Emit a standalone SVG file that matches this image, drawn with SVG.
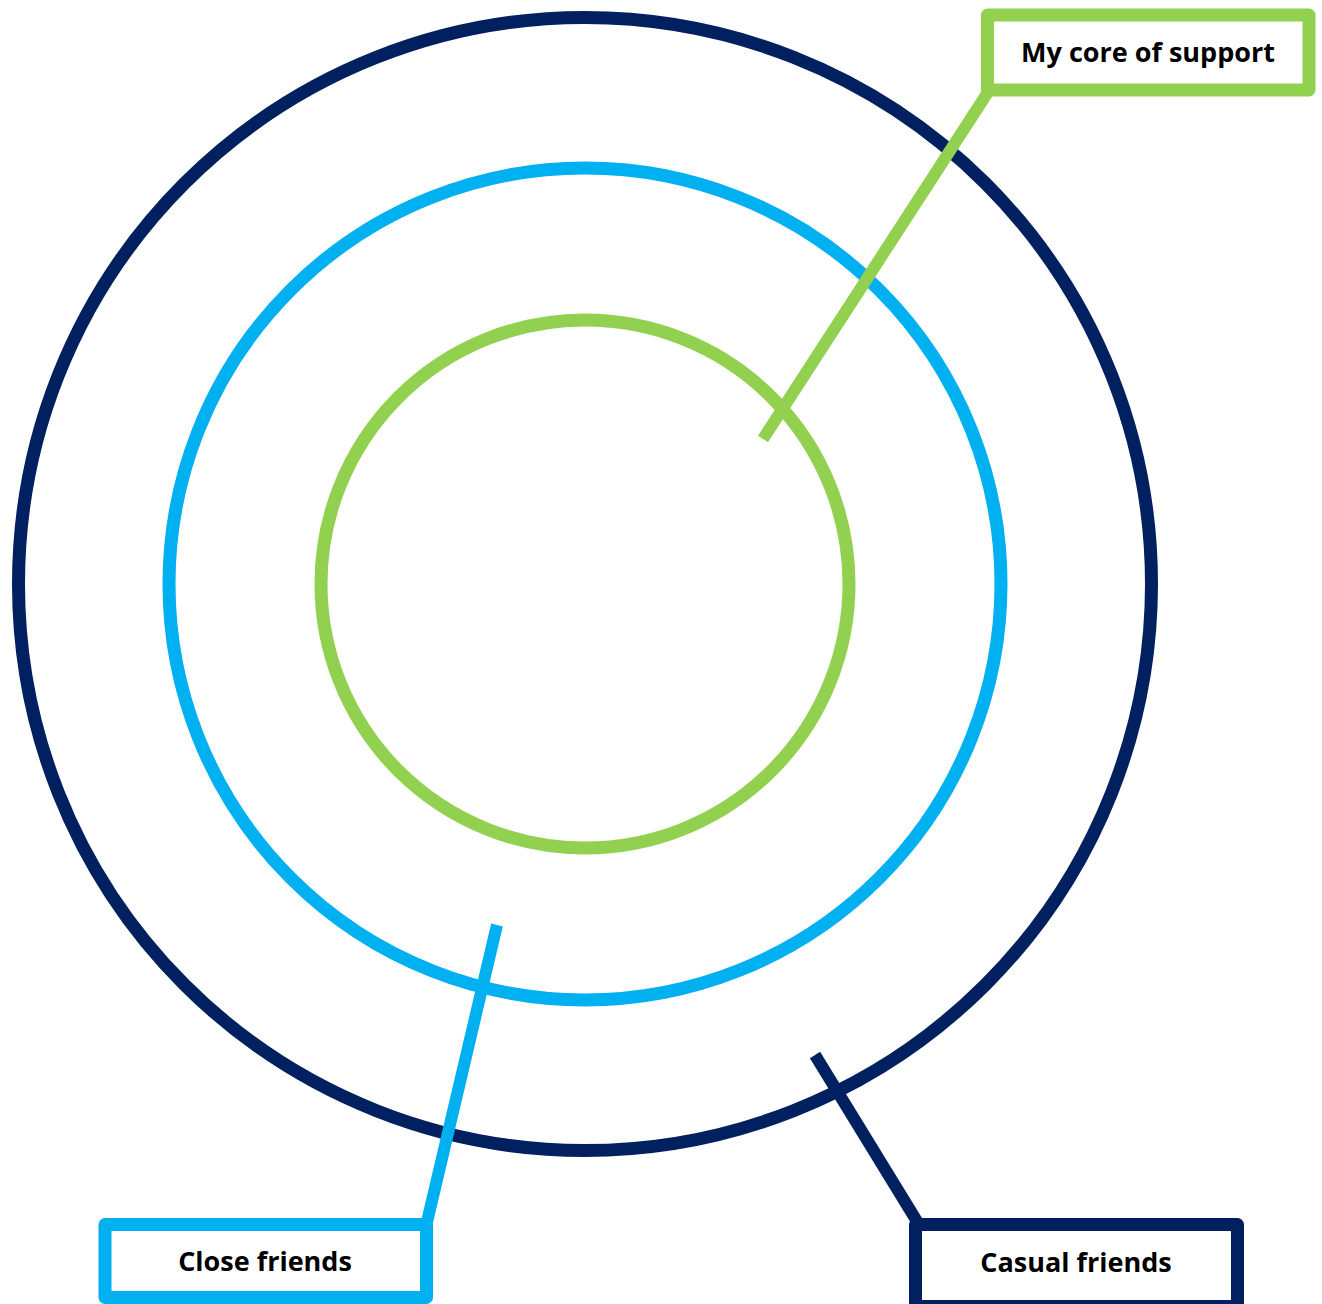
<svg xmlns="http://www.w3.org/2000/svg" width="1322" height="1304" viewBox="0 0 1322 1304">
<style>
.ring{fill:none;stroke-width:13}
.box{fill:#fff;stroke-width:13;stroke-linejoin:round}
.lbl{font-family:"Open Sans",Lato,"Liberation Sans",sans-serif;font-weight:bold;font-size:27px;fill:#000;text-anchor:middle}
.conn{stroke-width:12;fill:none;stroke-linecap:butt}
</style>
<rect width="1322" height="1304" fill="#fff"/>
<g id="ring-casual"><circle class="ring" cx="585" cy="584" r="566.5" stroke="#002060"/></g>
<g id="ring-close"><circle class="ring" cx="585" cy="584" r="416" stroke="#00B0F0"/></g>
<g id="ring-core"><circle class="ring" cx="585" cy="584" r="264" stroke="#92D050"/></g>
<g id="connectors">
<line class="conn" x1="763" y1="439" x2="990" y2="89" stroke="#92D050"/>
<line class="conn" x1="497" y1="925" x2="427" y2="1222" stroke="#00B0F0"/>
<line class="conn" x1="815" y1="1055" x2="918" y2="1223" stroke="#002060"/>
</g>
<g id="node-core">
<rect class="box" x="987.5" y="15" width="321.5" height="75" stroke="#92D050"/>
<text class="lbl" x="1148" y="62">My core of support</text>
</g>
<g id="node-close">
<rect class="box" x="105" y="1224.5" width="321.5" height="73" stroke="#00B0F0"/>
<text class="lbl" x="265" y="1271">Close friends</text>
</g>
<g id="node-casual">
<rect class="box" x="915.5" y="1224.5" width="322" height="82" stroke="#002060"/>
<text class="lbl" x="1076" y="1272">Casual friends</text>
</g>
</svg>
